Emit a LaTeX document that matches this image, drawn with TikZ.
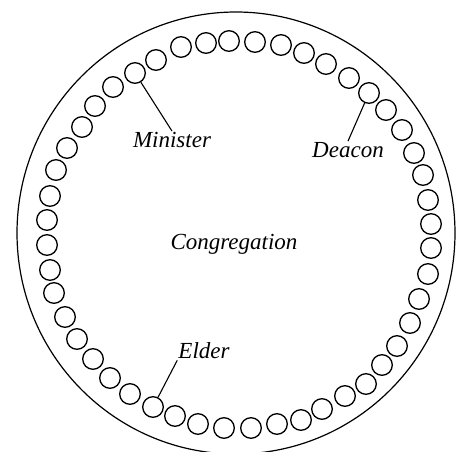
\documentclass[tikz,border=0pt]{standalone}
\usepackage{tikz}
\usepackage{fontspec}
\usetikzlibrary{positioning}
\newfontfamily\rolefont{Liberation Serif}

\begin{document}
\begin{tikzpicture}[
    x=1pt,y=-1pt,
    wall/.style={line width=1.2pt},
    seat/.style={circle,draw,line width=1.3pt,minimum size=20.6pt,inner sep=0pt},
    role/.style={font=\fontsize{23}{27}\rolefont\itshape,inner sep=1pt},
    lead/.style={line width=1.1pt}
  ]
    \useasboundingbox (0,0) rectangle (459,451);
    \draw[wall] (236,233) ellipse [x radius=219pt, y radius=221pt];

    % the ring of seats, clockwise from the top
    \foreach \x/\y [count=\i] in {206/43,229/41,255/42,281/45,304/53,326/64,349/78,369/93,
        386/110,402/130,414/153,423/175,428/200,431/224,431/248,428/274,
        419/299,410/323,397/346,382/365,366/384,345/396,322/409,301/420,
        277/424,251/428,224/428,198/424,175/416,153/407,130/394,110/378,
        93/359,77/339,65/317,54/293,50/270,47/245,47/220,50/196,
        56/170,67/148,82/127,95/106,113/87,135/73,156/60,181/47}
      \node[seat] (s\i) at (\x,\y) {};

    \node[role] (minister) at (172,140) {Minister};
    \node[role] (deacon) at (348,150) {Deacon};
    \node[role] (congregation) at (234,244) {Congregation};
    \node[role] (elder) at (204,351) {Elder};

    \draw[lead] (s46) -- (minister.north);
    \draw[lead] (s8) -- (deacon.north);
    \draw[lead] (s30) -- (elder.south west);
  \end{tikzpicture}
\end{document}
